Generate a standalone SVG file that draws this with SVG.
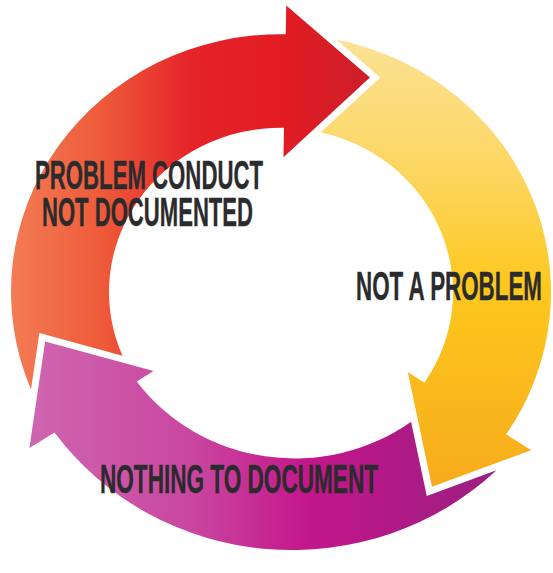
<svg xmlns="http://www.w3.org/2000/svg" width="553" height="573" viewBox="0 0 553 573">
  <defs>
    <linearGradient id="gRed" x1="0" y1="0" x2="1" y2="0">
      <stop offset="0" stop-color="#f37c55"/>
      <stop offset="0.25" stop-color="#ee5b3a"/>
      <stop offset="0.5" stop-color="#e5242a"/>
      <stop offset="0.75" stop-color="#e31b23"/>
      <stop offset="1" stop-color="#cc1f2a"/>
    </linearGradient>
    <linearGradient id="gYellow" x1="0" y1="0" x2="0" y2="1">
      <stop offset="0" stop-color="#fbe294"/>
      <stop offset="0.3" stop-color="#fcd660"/>
      <stop offset="0.55" stop-color="#fdc81e"/>
      <stop offset="1" stop-color="#f7ab1c"/>
    </linearGradient>
    <linearGradient id="gPurple" x1="0" y1="0" x2="1" y2="0">
      <stop offset="0" stop-color="#cf65b0"/>
      <stop offset="0.35" stop-color="#c9469f"/>
      <stop offset="0.6" stop-color="#c3168b"/>
      <stop offset="1" stop-color="#9a1f80"/>
    </linearGradient>
  </defs>
  <style>
    .lbl { font-family: "Liberation Sans", Arial, sans-serif; font-weight: bold; font-size: 41px; fill: #2b2b2d; stroke: #2b2b2d; stroke-width: 0.4; }
  </style>
  <rect x="0" y="0" width="553" height="573" fill="#ffffff"/>
  <g id="connectors" transform="translate(281 292) scale(1 0.955)">
    <path id="arrow-red" fill="url(#gRed)" d="M -250.00 101.97 A 270 270 0 0 1 4.71 -269.96 L 5.24 -299.95 L 88.93 -224.49 L 2.46 -140.98 L 3.00 -171.97 A 172 172 0 0 0 -158.57 66.63 L -241.63 42.86 Z"/>
    <path id="arrow-yellow" fill="url(#gYellow)" d="M 55.25 -264.28 A 270 270 0 0 1 225.15 149.02 L 250.17 165.58 L 151 204 L 126.75 83.89 L 143.43 94.93 A 172 172 0 0 0 39.82 -167.33 L 99.20 -224.66 Z"/>
    <path id="arrow-purple" fill="url(#gPurple)" d="M 215.49 186.53 A 291 291 0 0 1 -226.44 147.05 L -251.60 163.39 L -235.88 51.82 L -127.48 82.79 L -144.25 93.68 A 195 195 0 0 0 130.08 135.74 L 145.78 213.54 Z"/>
  </g>
  <g id="node-problem-conduct">
    <text class="lbl" x="35" y="189" textLength="228" lengthAdjust="spacingAndGlyphs">PROBLEM CONDUCT</text>
    <text class="lbl" x="42" y="226" textLength="211" lengthAdjust="spacingAndGlyphs">NOT DOCUMENTED</text>
  </g>
  <g id="node-not-a-problem">
    <text class="lbl" x="356" y="300" textLength="186" lengthAdjust="spacingAndGlyphs">NOT A PROBLEM</text>
  </g>
  <g id="node-nothing-to-document">
    <text class="lbl" x="100" y="493" textLength="278" lengthAdjust="spacingAndGlyphs">NOTHING TO DOCUMENT</text>
  </g>
</svg>
